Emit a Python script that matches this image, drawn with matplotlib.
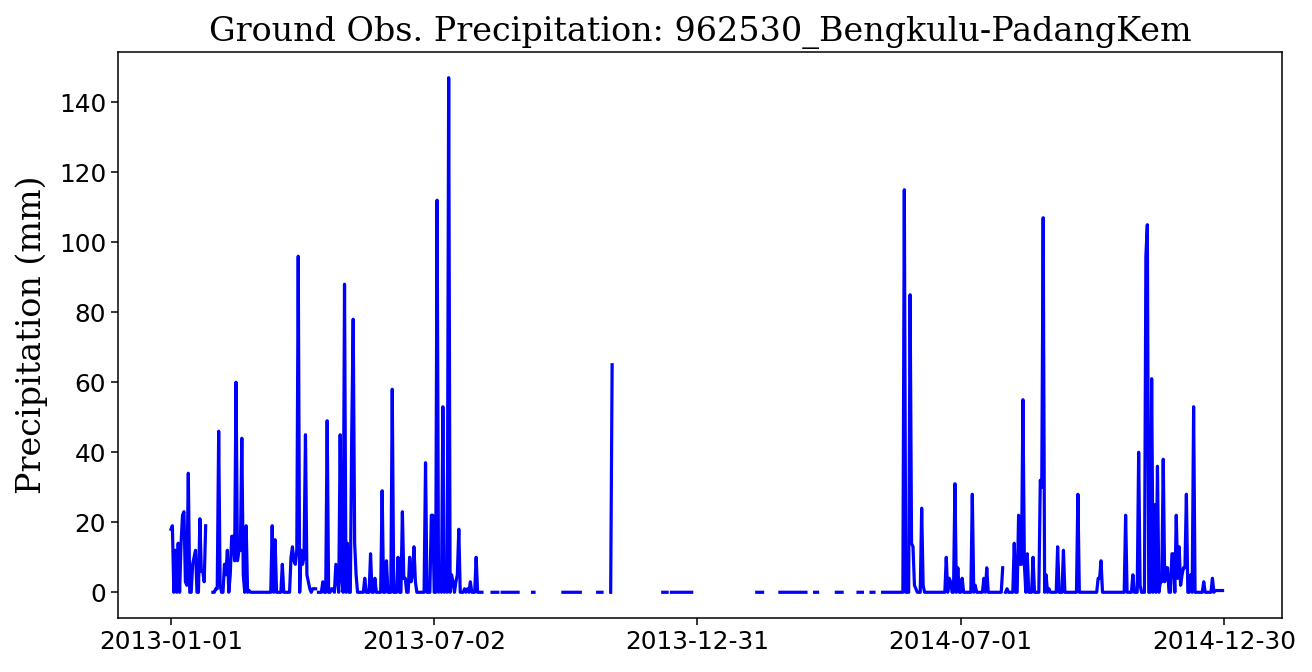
import numpy as np
import pandas as pd
import matplotlib
matplotlib.use("Agg")
import matplotlib.pyplot as plt
import matplotlib.dates as mdates

title = "Ground Obs. Precipitation: 962530_Bengkulu-PadangKem"
ylabel = "Precipitation (mm)"
series_start = "2013-01-01"
series_end = "2015-01-02"
tick_dates = ["2013-01-01", "2013-07-02", "2013-12-31", "2014-07-01", "2014-12-30"]

# observed daily precipitation blocks (start date, values)
seg1_start = "2013-01-01"
seg1 = [18, 19, 0, 12, 0, 14, 0, 14, 22, 23, 3, 2, 34, 0, 0, 8, 10, 12, 0, 0,
        21, 6, 6, 3, 19]

seg2_start = "2013-01-30"
seg2 = [0, 0, 1, 1, 46, 2, 0, 0, 8, 5, 12, 0, 5, 16, 16, 9, 60, 9, 12, 12,
        44, 5, 0, 19, 0, 0.5,
        0, 0, 0, 0, 0, 0, 0, 0, 0, 0, 0, 0, 0, 0,
        0, 19, 0, 15, 0, 0, 0, 0, 8, 0, 0, 0, 0, 0, 10, 13, 9, 8, 12, 96,
        0, 12, 8, 10, 45, 5, 3, 1, 0, 1, 1, 1]

seg3_start = "2013-04-13"
seg3 = [0, 0, 0, 3, 0, 0, 49, 0, 0, 1, 1, 0, 8, 4, 0, 45, 4, 0, 88, 0,
        14, 0, 0, 46, 78, 14, 5, 0, 0, 0, 0, 0, 4, 0, 0, 0, 11, 0, 0, 4,
        0, 0, 0, 0, 29, 0, 0, 9, 0, 0, 0, 58, 0, 0, 0, 10, 0, 0, 23, 4,
        4, 0, 0, 10, 3, 5, 13, 3, 0, 0, 0, 0, 0, 0, 37, 0, 0, 0, 22, 22,
        0, 0, 112, 0, 5, 0, 53, 0, 5, 0, 147, 0, 5, 3, 0, 3, 5, 18, 0, 0,
        0, 1, 0, 1, 0, 3, 0, 0, 0, 10, 0, 0, 0, 0]

seg_spike_start = "2013-11-01"
seg_spike = [0, 65]

seg4_start = "2014-05-08"
seg4 = [0, 0, 0, 0, 0, 0, 0, 0, 0, 0, 0, 0, 0, 0,
        0, 115, 0, 0, 0, 85, 14, 13, 2, 1, 0, 0, 0, 24, 2, 0,
        0, 0, 0, 0, 0, 0, 0, 0, 0, 0, 0, 0, 0, 0,
        10, 0, 4, 3, 0, 0, 31, 0, 7, 0, 0, 4, 0, 0, 0, 0, 0, 0, 28, 0,
        2, 0, 0, 0, 0, 0, 4, 0, 7, 0,
        0, 0, 0, 0, 0, 0, 0, 0, 0,
        7, np.nan, 0, 1, 0, 0, 0, 0, 14, 0, 0, 22, 8, 8, 55, 8, 0, 11, 0, 0,
        0, 10, 0, 0, 0, 0, 32, 30, 107, 0, 5, 0, 1, 0, 0, 0, 0, 0, 13, 0,
        0, 0, 12, 0,
        0, 0, 0, 0, 0, 0, 0, 0,
        28, 0,
        0, 0, 0, 0, 0, 0, 0, 0, 0, 0, 0, 0,
        4, 4, 9, 0,
        0, 0, 0, 0, 0, 0, 0, 0, 0, 0, 0, 0, 0, 0, 0,
        22, 0, 0, 0, 0, 5, 0, 0, 0, 40, 2, 0, 0, 0, 96, 105, 0, 0, 61, 0,
        25, 0, 36, 0, 3, 3, 38, 3, 7, 7, 0, 0, 11, 11, 0, 22, 4, 13, 2, 5,
        7, 7, 28, 0, 0, 5, 0, 53, 0, 0, 0, 0, 0, 0, 3, 0, 0, 0, 0, 0,
        4, 0, 0.5, 0.5, 0.5, 0.5, 0.5, 0.5]

# short runs of recorded zero rain between missing days
zero_runs = [("2013-08-11", "2013-08-15"), ("2013-08-18", "2013-08-29"),
             ("2013-09-08", "2013-09-09"), ("2013-09-29", "2013-10-11"),
             ("2013-10-23", "2013-10-26"), ("2013-12-07", "2013-12-10"),
             ("2013-12-13", "2013-12-27"), ("2014-02-10", "2014-02-14"),
             ("2014-02-26", "2014-03-16"), ("2014-03-22", "2014-03-24"),
             ("2014-04-06", "2014-04-10"), ("2014-04-21", "2014-04-24"),
             ("2014-04-30", "2014-05-02")]

idx = pd.date_range(series_start, series_end, freq="D")
precip = pd.Series(np.nan, index=idx)
for start, vals in [(seg1_start, seg1), (seg2_start, seg2), (seg3_start, seg3),
                    (seg_spike_start, seg_spike), (seg4_start, seg4)]:
    d = pd.date_range(start, periods=len(vals), freq="D")
    precip.loc[d] = vals
for a, b in zero_runs:
    precip.loc[a:b] = 0.0

W, H = 1312, 672
fig = plt.figure(figsize=(W / 100, H / 100), dpi=100)
ax = fig.add_axes([118 / W, 54 / H, (1282 - 118) / W, (618 - 52) / H])
ax.plot(precip.index, precip.values, color="blue", linewidth=2.3)

t0 = mdates.date2num(pd.Timestamp(series_start))
ax.set_xlim(t0 - 36.6, t0 + 768.1)
ax.set_ylim(-7.35, 154.35)
ax.set_xticks([mdates.date2num(pd.Timestamp(t)) for t in tick_dates])
ax.set_xticklabels(tick_dates)
ax.set_yticks([0, 20, 40, 60, 80, 100, 120, 140])
ax.tick_params(labelsize=17.8, length=5, width=1.1)
for s in ax.spines.values():
    s.set_linewidth(1.1)

ax.set_title(title, family="DejaVu Serif", fontsize=24, pad=8)
ax.set_ylabel(ylabel, family="DejaVu Serif", fontsize=24, labelpad=8)

fig.savefig("out.png", dpi=100)
